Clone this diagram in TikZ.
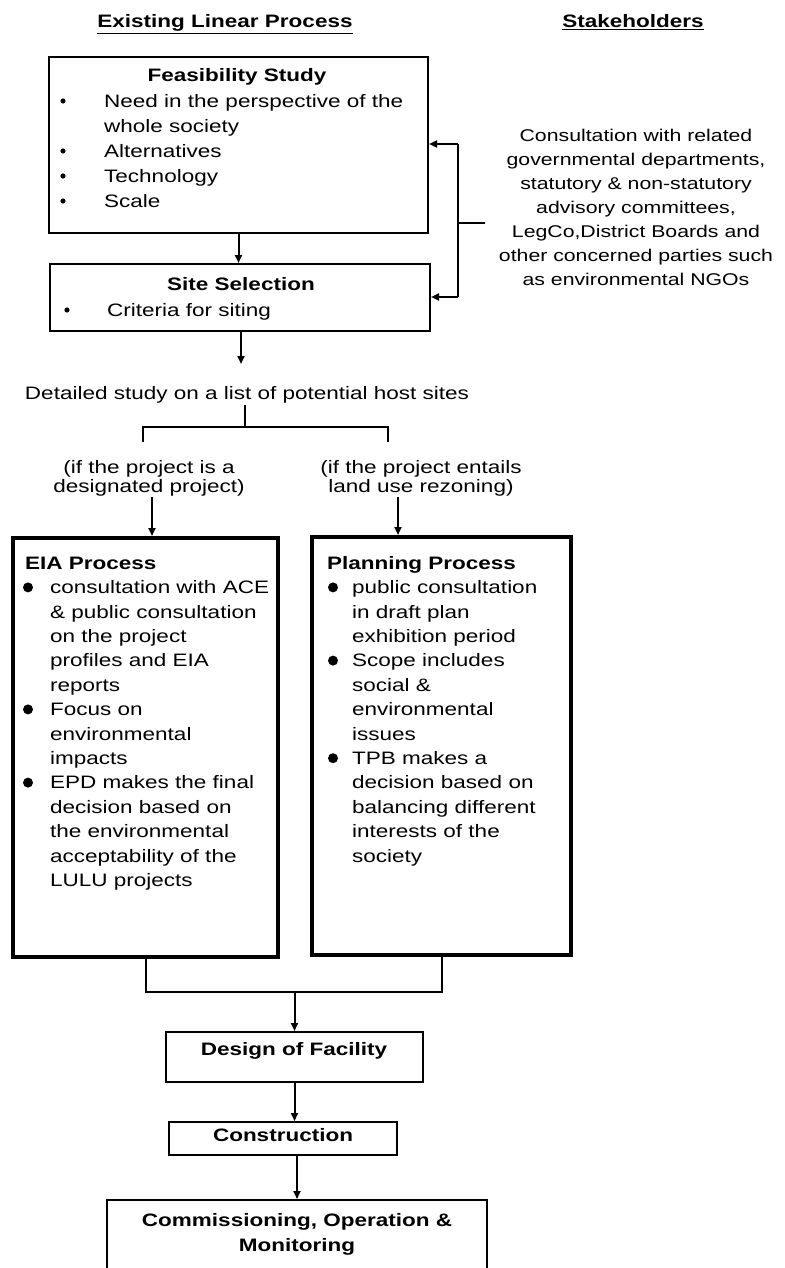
\documentclass[tikz,border=0pt]{standalone}
\usepackage{fontspec}
\setmainfont{Liberation Sans}[FakeStretch=1.25]
\usetikzlibrary{arrows.meta}
% rows of text at a fixed baseline distance
\newcommand\rowsat[3]{\fontsize{#1}{#2}\selectfont\begin{tabular}{@{}l@{}}#3\end{tabular}}
\newcommand\crowsat[3]{\fontsize{#1}{#2}\selectfont\begin{tabular}{@{}c@{}}#3\end{tabular}}
\begin{document}
\begin{tikzpicture}[x=1pt,y=-1pt,
  txt/.style={inner sep=0pt, font=\fontsize{18}{24}\selectfont},
  ttl/.style={inner sep=0pt, font=\fontsize{18}{24}\selectfont\bfseries},
  box/.style={draw, line width=2pt, inner sep=0pt},
  heavybox/.style={draw, line width=4pt, inner sep=0pt},
  link/.style={line width=2pt},
  arr/.style={link, -{Triangle[length=8pt,width=7pt]}},
  dot/.style={fill=black}]
\useasboundingbox (0,0) rectangle (784,1268);
\fill[white] (0,0) rectangle (784,1268);
\clip (0,0) rectangle (784,1268);

% column headings
\node[ttl, anchor=base] (hdrL) at (225,28) {\underline{Existing Linear Process}};
\node[ttl, anchor=base] (hdrR) at (633,28) {\underline{Stakeholders}};

% feasibility study
\node[box, minimum width=379pt, minimum height=176pt] (feas) at (238.5,145) {};
\node[ttl, anchor=base] (feasT) at (237,81.5) {Feasibility Study};
\node[txt, anchor=north west] (feasL) at (104,89.5)
  {\rowsat{18}{25}{Need in the perspective of the\\whole society\\Alternatives\\Technology\\Scale}};
\foreach \yy in {101,151,176,201} \fill[dot] (63,\yy) circle (2.6pt);

% site selection
\node[box, minimum width=380pt, minimum height=67pt] (site) at (240,297.5) {};
\node[ttl, anchor=base] (siteT) at (241,290) {Site Selection};
\node[txt, anchor=north west] (siteL) at (107,298.5) {\rowsat{18}{25}{Criteria for siting}};
\fill[dot] (67,310) circle (2.6pt);

% stakeholders
\node[txt, anchor=north] (stake) at (636,124.2)
  {\crowsat{17}{24}{Consultation with related\\governmental departments,\\statutory \& non-statutory\\advisory committees,\\LegCo,District Boards and\\other concerned parties such\\as environmental NGOs}};
\coordinate (sk1) at (458,144);
\coordinate (sk2) at (458,297);
\coordinate (skstem) at (485,223);
\draw[link] (sk1) -- (sk2);
\draw[link] (skstem) -- (skstem -| sk1);
\draw[arr] (sk1) -- (sk1 -| feas.east);
\draw[arr] (sk2) -- (sk2 -| site.east);

\draw[arr] (feas.south) -- (feas.south |- site.north);

% detailed study and split
\node[txt, anchor=base] (detail) at (247,399) {Detailed study on a list of potential host sites};
\coordinate (dtip) at (241,364);
\draw[arr] (site.south -| dtip) -- (dtip);
\coordinate (bl) at (143,427);
\coordinate (br) at (388,427);
\coordinate (bld) at (143,442);
\coordinate (brd) at (388,442);
\draw[link] (245,405) coordinate (dstem) -- (dstem |- bl);
\draw[link] (bld) -- (bl) -- (br) -- (brd);

\node[txt, anchor=north] (lab1) at (149,459.7)
  {\crowsat{18}{19}{(if the project is a\\designated project)}};
\node[txt, anchor=north] (lab2) at (421,459.7)
  {\crowsat{18}{19}{(if the project entails\\land use rezoning)}};

% EIA process
\node[heavybox, minimum width=265pt, minimum height=419pt] (eia) at (145.5,747.5) {};
\node[ttl, anchor=base west] (eiaT) at (25,569) {EIA Process};
\node[txt, anchor=north west] (eiaL) at (50,576.32)
  {\rowsat{18}{24.4}{consultation with ACE\\\& public consultation\\on the project\\profiles and EIA\\reports\\Focus on\\environmental\\impacts\\EPD makes the final\\decision based on\\the environmental\\acceptability of the\\LULU projects}};
\foreach \yy in {587.4,709.4,782.6} \fill[dot] (28,\yy) circle (5pt);

% planning process
\node[heavybox, minimum width=259pt, minimum height=418pt] (plan) at (441.5,746) {};
\node[ttl, anchor=base west] (planT) at (327,569) {Planning Process};
\node[txt, anchor=north west] (planL) at (352,576.32)
  {\rowsat{18}{24.4}{public consultation\\in draft plan\\exhibition period\\Scope includes\\social \&\\environmental\\issues\\TPB makes a\\decision based on\\balancing different\\interests of the\\society}};
\foreach \yy in {587.4,660.6,758.2} \fill[dot] (333,\yy) circle (5pt);

\coordinate (eiain) at (152,497);
\coordinate (planin) at (398,497);
\draw[arr] (eiain) -- (eiain |- eia.north);
\draw[arr] (planin) -- (planin |- plan.north);

% later stages
\node[box, minimum width=257pt, minimum height=50pt] (design) at (294.5,1057) {};
\node[ttl, anchor=base] (designT) at (294,1055) {Design of Facility};
\node[box, minimum width=228pt, minimum height=33pt] (constr) at (283,1138.5) {};
\node[ttl, anchor=base] (constrT) at (283,1141) {Construction};
\node[box, minimum width=380pt, minimum height=120pt] (comm) at (297,1260) {};
\node[ttl, anchor=north] (commT) at (297,1208.5)
  {\bfseries\crowsat{18}{25}{Commissioning, Operation \&\\Monitoring}};

\coordinate (mrg) at (294.5,992);
\draw[link] (eia.south) |- (mrg) -| (plan.south);
\draw[arr] (mrg) -- (design.north);
\draw[arr] (design.south) -- (design.south |- constr.north);
\draw[arr] (comm.north |- constr.south) -- (comm.north);
\end{tikzpicture}
\end{document}
